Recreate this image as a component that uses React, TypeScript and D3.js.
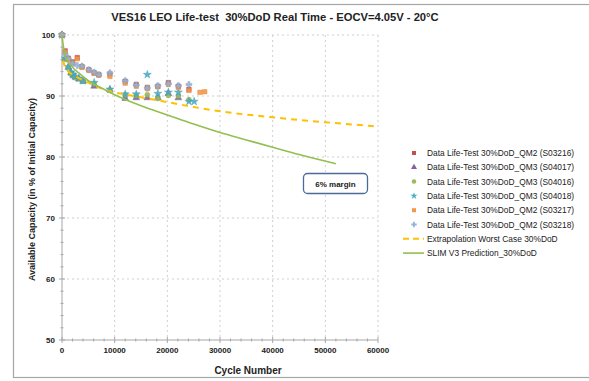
import React from 'react';
import * as d3 from 'd3';

// chart values
const xTicks = [0, 10000, 20000, 30000, 40000, 50000, 60000];
const yTicks = [50, 60, 70, 80, 90, 100];

const qm2Cycles = [0, 600, 1200, 2000, 2900, 3800, 5100, 6100, 7000, 9100, 12000, 14100, 16200, 18200, 20200, 22100, 24100, 26200, 27100];
const qm3Cycles = [0, 600, 1200, 1700, 2100, 2500, 3200, 4000, 6100, 9100, 12000, 14100, 16200, 18200, 20200, 22100, 24100, 25100];

const s03216 = [100, 97.4, 96.2, 95.6, 96.3, 94.8, 94.3, 93.8, 93.5, 93.6, 92.4, 91.9, 91.4, 91.6, 92.2, 91.6, 91.1];
const s03217 = [100, 97.2, 96.0, 95.4, 96.1, 94.7, 94.2, 93.7, 93.4, 93.2, 92.1, 91.6, 91.2, 91.5, 91.9, 91.4, 90.9, 90.6, 90.7];
const s03218 = [100, 96.8, 96.1, 95.3, 95.0, 94.9, 94.3, 93.9, 93.5, 93.8, 92.5, 91.8, 91.3, 91.7, 92.0, 91.7, 91.9];
const s04017 = [100, 96.1, 94.7, 93.8, 93.4, 93.1, 92.8, 92.4, 91.6, 91.0, 89.6, 89.7, 89.7, 89.7, 90.4, 89.7];
const s04016 = [100, 96.0, 94.6, 93.7, 93.4, 93.0, 92.8, 92.4, 92.0, 90.9, 90.2, 90.1, 90.2, 89.6, 90.1, 90.0, 89.4];
const s04018 = [100, 96.2, 94.8, 93.9, 93.5, 93.2, 92.9, 92.5, 92.2, 91.1, 90.3, 90.3, 93.5, 90.4, 90.6, 90.6, 89.1, 89.1];

const extraCycles = [200, 500, 1000, 2000, 3000, 5000, 7500, 10000, 15000, 20000, 25000, 30000, 40000, 50000, 60000];
const extraValues = [95.8, 94.9, 94.2, 93.5, 93.0, 92.2, 91.2, 90.6, 89.8, 89.0, 88.2, 87.5, 86.5, 85.7, 85.0];

const slimCycles = [0, 250, 500, 1000, 2000, 3000, 5000, 7500, 10000, 15000, 20000, 25000, 30000, 35000, 40000, 45000, 52000];
const slimValues = [100, 98.2, 97.0, 95.8, 94.7, 93.9, 92.5, 91.3, 90.2, 88.4, 86.9, 85.4, 84.0, 82.8, 81.6, 80.4, 78.9];

const scatterSeries = [
  { name: 'Data Life-Test 30%DoD_QM2 (S03216)', cycles: qm2Cycles, values: s03216, color: '#c0504d', symbol: d3.symbolSquare },
  { name: 'Data Life-Test 30%DoD_QM3 (S04017)', cycles: qm3Cycles, values: s04017, color: '#8064a2', symbol: d3.symbolTriangle },
  { name: 'Data Life-Test 30%DoD_QM3 (S04016)', cycles: qm3Cycles, values: s04016, color: '#9bbb59', symbol: d3.symbolCircle },
  { name: 'Data Life-Test 30%DoD_QM3 (S04018)', cycles: qm3Cycles, values: s04018, color: '#4bacc6', symbol: d3.symbolStar },
  { name: 'Data Life-Test 30%DoD_QM2 (S03217)', cycles: qm2Cycles, values: s03217, color: '#f79646', symbol: d3.symbolSquare },
  { name: 'Data Life-Test 30%DoD_QM2 (S03218)', cycles: qm2Cycles, values: s03218, color: '#95b3d7', symbol: d3.symbolCross },
];

const W = 589;
const H = 381;
const plot = { left: 62, right: 378, top: 35, bottom: 340 };
const font = '"Liberation Sans", Arial, sans-serif';

export default function App() {
  const x = d3.scaleLinear().domain([0, 60000]).range([plot.left, plot.right]);
  const y = d3.scaleLinear().domain([50, 100]).range([plot.bottom, plot.top]);

  const line = d3
    .line<[number, number]>()
    .x(d => x(d[0]))
    .y(d => y(d[1]))
    .curve(d3.curveMonotoneX);

  const xMinor = d3.range(0, 60001, 2000);
  const yMinor = d3.range(50, 100.1, 2);

  const legendX = 414;
  const legendY0 = 153;
  const legendStep = 14.3;

  return (
    <svg width={W} height={H} style={{ position: 'absolute', left: 0, top: 0 }} fontFamily={font}>
      <rect x={0} y={0} width={W} height={H} fill="#fff" />
      <rect x={13.5} y={4.5} width={W} height={373} fill="#fff" stroke="#a6a6a6" strokeWidth={1.2} />

      <text x={275} y={21} textAnchor="middle" fontSize={11.2} fontWeight="bold" fill="#222" style={{ whiteSpace: 'pre' }}>
        {'VES16 LEO Life-test  30%DoD Real Time - EOCV=4.05V - 20°C'}
      </text>

      {/* grid */}
      {xTicks.slice(1).map(t => (
        <line key={'gx' + t} x1={x(t)} x2={x(t)} y1={plot.top} y2={plot.bottom} stroke="#cfcfcf" strokeDasharray="2,3" />
      ))}
      {yTicks.slice(1).map(t => (
        <line key={'gy' + t} x1={plot.left} x2={plot.right} y1={y(t)} y2={y(t)} stroke="#cfcfcf" strokeDasharray="2,3" />
      ))}

      {/* axes */}
      <line x1={plot.left} x2={plot.left} y1={plot.top} y2={plot.bottom} stroke="#a6a6a6" />
      <line x1={plot.left} x2={plot.right} y1={plot.bottom} y2={plot.bottom} stroke="#a6a6a6" />
      {xMinor.map(t => (
        <line key={'mx' + t} x1={x(t)} x2={x(t)} y1={plot.bottom - (t % 10000 === 0 ? 3 : 1.5)} y2={plot.bottom + (t % 10000 === 0 ? 3 : 1.5)} stroke="#a6a6a6" />
      ))}
      {yMinor.map(t => (
        <line key={'my' + t} x1={plot.left - (t % 10 === 0 ? 3 : 1.5)} x2={plot.left + (t % 10 === 0 ? 3 : 1.5)} y1={y(t)} y2={y(t)} stroke="#a6a6a6" />
      ))}
      {xTicks.map(t => (
        <text key={'tx' + t} x={x(t)} y={plot.bottom + 13} textAnchor="middle" fontSize={8} fontWeight="bold" fill="#222">
          {t}
        </text>
      ))}
      {yTicks.map(t => (
        <text key={'ty' + t} x={plot.left - 7} y={y(t) + 3} textAnchor="end" fontSize={8} fontWeight="bold" fill="#222">
          {t}
        </text>
      ))}

      <text x={248} y={374} textAnchor="middle" fontSize={10} fontWeight="bold" fill="#222">
        Cycle Number
      </text>
      <text transform={`translate(35,${(plot.top + plot.bottom) / 2 + 2}) rotate(-90)`} textAnchor="middle" fontSize={9} fontWeight="bold" fill="#222">
        Available Capacity (in % of Initial Capacity)
      </text>

      {/* data markers */}
      {scatterSeries.map(s => (
        <g key={s.name}>
          {s.values.map((v, i) => (
            <path
              key={i}
              transform={`translate(${x(s.cycles[i])},${y(v)})`}
              d={d3.symbol().type(s.symbol).size(20)() || ''}
              fill={s.color}
              stroke={d3.color(s.color)!.darker(0.3).toString()}
              strokeWidth={0.5}
              opacity={0.9}
            />
          ))}
        </g>
      ))}

      {/* extrapolation and prediction */}
      <path
        d={line(extraCycles.map((c, i) => [c, extraValues[i]]) as [number, number][]) || ''}
        fill="none"
        stroke="#ffc000"
        strokeWidth={2}
        strokeDasharray="6,5"
      />
      <path
        d={line(slimCycles.map((c, i) => [c, slimValues[i]]) as [number, number][]) || ''}
        fill="none"
        stroke="#92c050"
        strokeWidth={1.6}
      />

      {/* annotation */}
      <rect x={303.5} y={173.5} width={64} height={20} rx={4} fill="#fff" stroke="#4a6a9a" strokeWidth={1.3} />
      <text x={335.5} y={186.5} textAnchor="middle" fontSize={8} fontWeight="bold" fill="#222">
        6% margin
      </text>

      {/* legend */}
      {scatterSeries.map((s, i) => (
        <g key={'lg' + s.name} transform={`translate(0,${legendY0 + i * legendStep})`}>
          <path
            transform={`translate(${legendX},0)`}
            d={d3.symbol().type(s.symbol).size(16)() || ''}
            fill={s.color}
          />
          <text x={427} y={3} fontSize={8.4} fill="#222">
            {s.name}
          </text>
        </g>
      ))}
      <g transform={`translate(0,${legendY0 + 6 * legendStep})`}>
        <line x1={403} x2={424} y1={0} y2={0} stroke="#ffc000" strokeWidth={2} strokeDasharray="6,4" />
        <text x={427} y={3} fontSize={8.4} fill="#222">
          Extrapolation Worst Case 30%DoD
        </text>
      </g>
      <g transform={`translate(0,${legendY0 + 7 * legendStep})`}>
        <line x1={403} x2={424} y1={0} y2={0} stroke="#92c050" strokeWidth={1.6} />
        <text x={427} y={3} fontSize={8.4} fill="#222">
          SLIM V3 Prediction_30%DoD
        </text>
      </g>
    </svg>
  );
}
